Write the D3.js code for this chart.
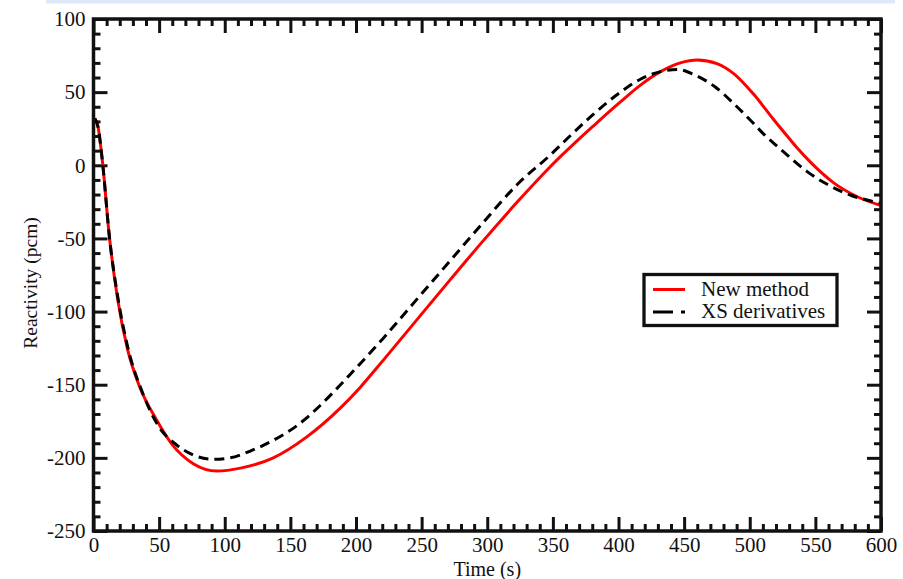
<!DOCTYPE html>
<html>
<head>
<meta charset="utf-8">
<script src="https://cdn.jsdelivr.net/npm/d3@7"></script>
<style>
  html, body { margin: 0; padding: 0; background: #fff; }
  svg { display: block; }
</style>
</head>
<body>
<div id="chart"></div>
<script>
// values: [time (s), reactivity (pcm)]
const newMethod = [
  [1, 32], [3.5, 26], [7, 1], [12, -48], [18.5, -92], [26, -126], [35, -151],
  [48, -174], [60, -191], [76, -204], [94, -209], [112, -207], [137, -200],
  [162, -186], [188, -166], [203, -152], [221, -133], [246, -106], [272, -78],
  [297, -51.5], [323, -25], [348, -1], [381, 27], [401, 43], [417, 55], [432, 64],
  [447, 70], [460, 72], [475, 69.5], [488, 62.5], [503, 48.5], [518, 31.5],
  [529, 19.5], [536, 12], [547, 1.5], [564, -12], [582, -21.5], [600, -27.5]
];
const xsDerivatives = [
  [1, 32], [3.5, 26], [7, 1], [12, -48], [18.5, -90], [26, -124], [37.6, -156],
  [50, -179], [63, -191], [76, -198], [91, -201], [104, -200], [119, -195.5],
  [137, -188], [155, -178], [170, -166.5], [185, -153], [195, -143.5],
  [221, -118], [246, -92], [272, -65], [297, -39], [323, -13], [348, 7],
  [363, 20], [381, 35], [401.5, 50], [417, 59], [432, 64], [445, 65.5],
  [457.5, 62], [473, 54], [488, 42], [503, 28.5], [511, 21], [519, 14.5],
  [526, 9], [544, -4.5], [559, -13], [577, -20.5], [595, -25], [600, -26]
];
const xMajorTicks = [0, 50, 100, 150, 200, 250, 300, 350, 400, 450, 500, 550, 600];
const yMajorTicks = [-250, -200, -150, -100, -50, 0, 50, 100];
const seriesNames = ["New method", "XS derivatives"];

const width = 903, height = 579;
const font = "'Liberation Serif', 'Times New Roman', serif";
const ink = "#111";

const svg = d3.select("#chart").append("svg")
  .attr("width", width)
  .attr("height", height)
  .style("font-family", font);

// light blue strip along the top edge
svg.append("rect")
  .attr("x", 46).attr("y", 0)
  .attr("width", 849).attr("height", 3.5)
  .attr("fill", "#dde9fa");

const x = d3.scaleLinear().domain([0, 600]).range([93.5, 881]);
const y = d3.scaleLinear().domain([-250, 100]).range([531, 19]);

const xMinor = d3.range(0, 601, 10).filter(d => d % 50 !== 0);
const yMinor = d3.range(-250, 101, 10).filter(d => d % 50 !== 0);

function styleAxis(g) {
  g.select(".domain").remove();
  g.selectAll(".tick line").attr("stroke", ink).attr("stroke-width", 3);
  g.selectAll(".tick text")
    .attr("fill", ink)
    .attr("font-size", "21px")
    .attr("font-family", font);
}

const majorLen = 14, minorLen = 7;
const fmt = d => String(d);

// bottom / top
svg.append("g").attr("transform", `translate(0,${y(-250)})`)
  .call(d3.axisBottom(x).tickValues(xMajorTicks).tickFormat(fmt)
    .tickSizeInner(-majorLen).tickSizeOuter(0).tickPadding(6))
  .call(styleAxis);
svg.append("g").attr("transform", `translate(0,${y(-250)})`)
  .call(d3.axisBottom(x).tickValues(xMinor).tickFormat("")
    .tickSizeInner(-minorLen).tickSizeOuter(0))
  .call(styleAxis);
svg.append("g").attr("transform", `translate(0,${y(100)})`)
  .call(d3.axisTop(x).tickValues(xMajorTicks).tickFormat("")
    .tickSizeInner(-majorLen).tickSizeOuter(0))
  .call(styleAxis);
svg.append("g").attr("transform", `translate(0,${y(100)})`)
  .call(d3.axisTop(x).tickValues(xMinor).tickFormat("")
    .tickSizeInner(-minorLen).tickSizeOuter(0))
  .call(styleAxis);

// left / right
svg.append("g").attr("transform", `translate(${x(0)},0)`)
  .call(d3.axisLeft(y).tickValues(yMajorTicks).tickFormat(fmt)
    .tickSizeInner(-majorLen).tickSizeOuter(0).tickPadding(8))
  .call(styleAxis);
svg.append("g").attr("transform", `translate(${x(0)},0)`)
  .call(d3.axisLeft(y).tickValues(yMinor).tickFormat("")
    .tickSizeInner(-minorLen).tickSizeOuter(0))
  .call(styleAxis);
svg.append("g").attr("transform", `translate(${x(600)},0)`)
  .call(d3.axisRight(y).tickValues(yMajorTicks).tickFormat("")
    .tickSizeInner(-majorLen).tickSizeOuter(0))
  .call(styleAxis);
svg.append("g").attr("transform", `translate(${x(600)},0)`)
  .call(d3.axisRight(y).tickValues(yMinor).tickFormat("")
    .tickSizeInner(-minorLen).tickSizeOuter(0))
  .call(styleAxis);

// clip the curves to the plot frame
svg.append("clipPath").attr("id", "plot-clip")
  .append("rect")
  .attr("x", x(0)).attr("y", y(100))
  .attr("width", x(600) - x(0)).attr("height", y(-250) - y(100));

const line = d3.line()
  .x(d => x(d[0]))
  .y(d => y(d[1]))
  .curve(d3.curveMonotoneX);

const plot = svg.append("g").attr("clip-path", "url(#plot-clip)");
plot.append("path")
  .datum(newMethod)
  .attr("d", line)
  .attr("fill", "none")
  .attr("stroke", "#ff0000")
  .attr("stroke-width", 3);
plot.append("path")
  .datum(xsDerivatives)
  .attr("d", line)
  .attr("fill", "none")
  .attr("stroke", "#000")
  .attr("stroke-width", 3)
  .attr("stroke-dasharray", "10,6");

// frame
svg.append("rect")
  .attr("x", x(0)).attr("y", y(100))
  .attr("width", x(600) - x(0)).attr("height", y(-250) - y(100))
  .attr("fill", "none")
  .attr("stroke", ink)
  .attr("stroke-width", 3.5);

// axis titles
svg.append("text")
  .attr("x", (x(0) + x(600)) / 2)
  .attr("y", 576)
  .attr("text-anchor", "middle")
  .attr("font-size", "20px")
  .attr("fill", ink)
  .text("Time (s)");

svg.append("text")
  .attr("transform", `translate(37,${(y(-250) + y(100)) / 2 + 8}) rotate(-90)`)
  .attr("text-anchor", "middle")
  .attr("font-size", "19.5px")
  .attr("fill", ink)
  .text("Reactivity (pcm)");

// legend
const legend = svg.append("g");
legend.append("rect")
  .attr("x", 644).attr("y", 274.5)
  .attr("width", 193).attr("height", 51)
  .attr("fill", "#fff")
  .attr("stroke", ink)
  .attr("stroke-width", 3.3);

const legendRows = [
  { name: seriesNames[0], color: "#ff0000", dash: null, y: 289.5 },
  { name: seriesNames[1], color: "#000", dash: "20,8", y: 312 }
];
legendRows.forEach(r => {
  legend.append("line")
    .attr("x1", 653).attr("x2", 685)
    .attr("y1", r.y).attr("y2", r.y)
    .attr("stroke", r.color)
    .attr("stroke-width", 3)
    .attr("stroke-dasharray", r.dash);
  legend.append("text")
    .attr("x", 701)
    .attr("y", r.y + 6)
    .attr("font-size", "21px")
    .attr("fill", ink)
    .text(r.name);
});
</script>
</body>
</html>
